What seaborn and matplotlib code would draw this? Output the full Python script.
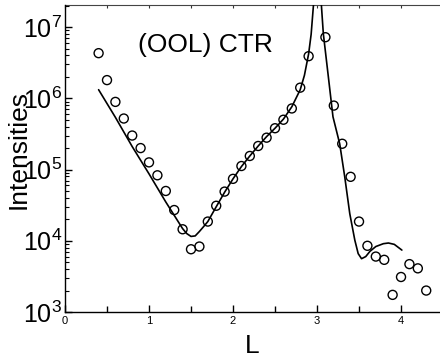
import matplotlib
matplotlib.use("Agg")
import matplotlib.pyplot as plt
import seaborn as sns
import numpy as np
from matplotlib.ticker import MultipleLocator, LogLocator, NullFormatter

# measured data (open circles)
data_L = [0.4, 0.5, 0.6, 0.7, 0.8, 0.9, 1.0, 1.1, 1.2, 1.3, 1.4, 1.5, 1.6, 1.7,
          1.8, 1.9, 2.0, 2.1, 2.2, 2.3, 2.4, 2.5, 2.6, 2.7, 2.8, 2.9,
          3.1, 3.2, 3.3, 3.4, 3.5, 3.6, 3.7, 3.8, 3.9, 4.0, 4.1, 4.2, 4.3]
data_I = [4.3e6, 1.8e6, 8.9e5, 5.2e5, 3.0e5, 2.0e5, 1.26e5, 8.3e4, 5.0e4, 2.7e4,
          1.45e4, 7.6e3, 8.3e3, 1.86e4, 3.1e4, 4.9e4, 7.4e4, 1.12e5, 1.55e5,
          2.14e5, 2.8e5, 3.8e5, 5.0e5, 7.2e5, 1.41e6, 3.9e6,
          7.2e6, 7.9e5, 2.3e5, 7.9e4, 1.86e4, 8.5e3, 6.0e3, 5.4e3, 1.74e3,
          3.1e3, 4.7e3, 4.1e3, 2.0e3]

# fitted curve (solid line)
fit_L = [0.40, 0.60, 0.80, 1.00, 1.20, 1.40, 1.45, 1.50, 1.55, 1.60, 1.65, 1.70,
         1.80, 1.90, 2.00, 2.10, 2.20, 2.30, 2.40, 2.50, 2.60, 2.70, 2.80, 2.85,
         2.90, 2.93, 2.96, 3.05, 3.075, 3.135, 3.19, 3.27, 3.33, 3.39, 3.45,
         3.49, 3.53, 3.58, 3.63, 3.70, 3.79, 3.85, 3.92, 4.01]
fit_I = [1.32e6, 5.4e5, 2.1e5, 8.7e4, 3.5e4, 1.48e4, 1.26e4, 1.15e4, 1.17e4,
         1.35e4, 1.58e4, 1.86e4, 3.0e4, 4.8e4, 7.4e4, 1.10e5, 1.55e5, 2.14e5,
         2.9e5, 3.8e5, 5.1e5, 7.6e5, 1.32e6, 2.1e6, 4.2e6, 7.9e6, 2.2e7, 2.2e7,
         8.1e6, 2.0e6, 5.5e5, 2.3e5, 7.9e4, 2.4e4, 1.02e4, 6.6e3, 5.6e3, 6.0e3,
         7.1e3, 8.3e3, 9.1e3, 9.3e3, 8.9e3, 7.4e3]

title_text = "(OOL) CTR"
x_label = "L"
y_label = "Intensities"

sns.set_style("ticks")
plt.rcParams['font.family'] = ['Liberation Sans', 'DejaVu Sans']
plt.rcParams['mathtext.fontset'] = 'custom'
plt.rcParams['mathtext.rm'] = 'Liberation Sans'
plt.rcParams['mathtext.it'] = 'Liberation Sans:italic'
plt.rcParams['mathtext.bf'] = 'Liberation Sans:bold'
for key in ['text.color', 'axes.labelcolor', 'xtick.color', 'ytick.color',
            'axes.edgecolor']:
    plt.rcParams[key] = 'black'

fig = plt.figure(figsize=(4.4, 3.6), dpi=100)
ax = fig.add_axes([65/440, 48/360, 375/440, 307/360])

sns.lineplot(x=fit_L, y=fit_I, ax=ax, color='black', linewidth=1.2,
             estimator=None, sort=False)
sns.scatterplot(x=data_L, y=data_I, ax=ax, marker='o', s=42,
                facecolors='none', edgecolor='black', linewidth=1.0, zorder=3)

ax.set_yscale('log')
ax.set_xlim(0, 4.464)
ax.set_ylim(1e3, 2.04e7)

ax.xaxis.set_major_locator(MultipleLocator(1))
ax.xaxis.set_minor_locator(MultipleLocator(0.5))
ax.yaxis.set_major_locator(LogLocator(base=10, numticks=10))
ax.yaxis.set_minor_locator(LogLocator(base=10, subs=np.arange(2, 10), numticks=20))
ax.yaxis.set_minor_formatter(NullFormatter())

ax.tick_params(axis='x', which='major', direction='in', length=5, width=1,
               labelsize=8, pad=3, top=False, colors='black')
ax.tick_params(axis='x', which='minor', direction='in', length=4, width=1, top=False)
ax.tick_params(axis='y', which='major', direction='in', length=5, width=1,
               labelsize=18, pad=2, right=False, colors='black')
ax.tick_params(axis='y', which='minor', direction='in', length=3, width=0.8, right=False)

sec = ax.secondary_xaxis('top')
sec.xaxis.set_major_locator(MultipleLocator(0.5))
sec.tick_params(direction='in', length=2.5, width=0.8, labeltop=False, colors='#333333')
sec.spines['top'].set_color('#444444')

for side in ['left', 'bottom']:
    ax.spines[side].set_color('black')
    ax.spines[side].set_linewidth(1.0)
ax.spines['right'].set_visible(False)
ax.spines['top'].set_visible(False)

ax.set_xlabel(x_label, fontsize=19, color='black')
ax.xaxis.set_label_coords(0.5, -0.072)
ax.set_ylabel("")
ax.text(-0.125, 0.53, y_label, transform=ax.transAxes, rotation=90,
        ha='center', va='center', fontsize=19, color='black')

ax.text(0.195, 0.87, title_text, transform=ax.transAxes, fontsize=19,
        ha='left', va='center', color='black')

fig.savefig("out.png", dpi=100)
